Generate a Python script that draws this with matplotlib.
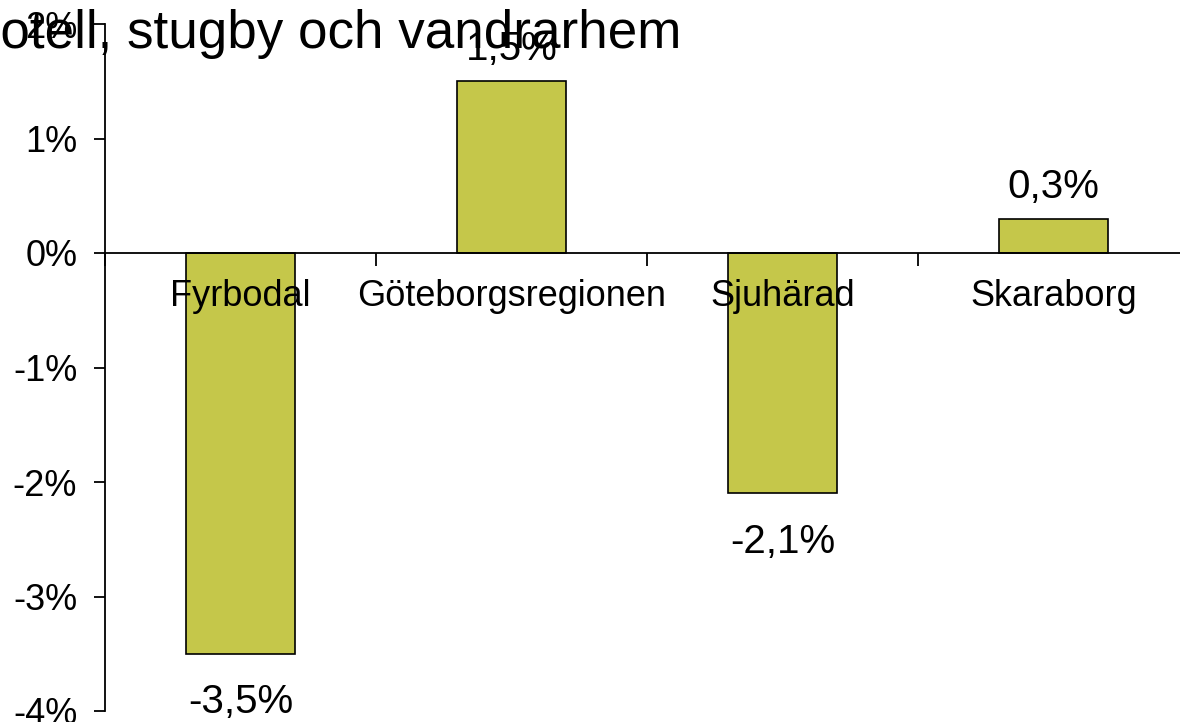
import numpy as np
import matplotlib
matplotlib.use('Agg')
import matplotlib.pyplot as plt
from matplotlib.ticker import FuncFormatter

plt.rcParams['font.family'] = ['Liberation Sans', 'DejaVu Sans']

# data
title = 'Hotell, stugby och vandrarhem'
regions = ['Fyrbodal', 'Göteborgsregionen', 'Sjuhärad', 'Skaraborg']
change = [-3.5, 1.5, -2.1, 0.3]
y_ticks = [-4, -3, -2, -1, 0, 1, 2]

bar_color = '#C5C74A'

fig = plt.figure(figsize=(11.8, 7.22), dpi=100)
ax = fig.add_axes([105 / 1180, 11 / 722, 1084 / 1180, 687 / 722])
ax.set_facecolor('none')

x = np.arange(len(regions))
ax.bar(x, change, width=0.405, color=bar_color, edgecolor='black', linewidth=1.2, zorder=2)

ax.set_xlim(-0.5, len(regions) - 0.5)
ax.set_ylim(-4, 2)

# axis styling
ax.spines['top'].set_visible(False)
ax.spines['right'].set_visible(False)
ax.spines['bottom'].set_position(('data', 0))
ax.spines['bottom'].set_zorder(3)
for s in ('left', 'bottom'):
    ax.spines[s].set_linewidth(1.3)

ax.set_yticks(y_ticks)
ax.yaxis.set_major_formatter(FuncFormatter(lambda v, p: f'{v:.0f}%'))
ax.tick_params(axis='y', direction='out', length=8, width=1.3, pad=12, labelsize=26)

ax.set_xticks(np.arange(-0.5, len(regions), 1.0))
ax.set_xticklabels([])
ax.tick_params(axis='x', direction='out', length=9, width=1.3)

# category names just below the zero line
for i, name in enumerate(regions):
    ax.annotate(name, (i, 0), xytext=(0, -38), textcoords='offset points',
                ha='center', va='baseline', fontsize=26, zorder=4)

# value labels
for i, v in enumerate(change):
    lbl = f'{v:.1f}%'.replace('.', ',')
    off = 15 if v >= 0 else -43
    ax.annotate(lbl, (i, v), xytext=(0, off), textcoords='offset points',
                ha='center', va='baseline', fontsize=29, annotation_clip=False)

fig.text(-38 / 1180, 1 - 48 / 722, title, fontsize=38.2, ha='left', va='baseline')

fig.savefig('out.png', dpi=100)
plt.close(fig)
